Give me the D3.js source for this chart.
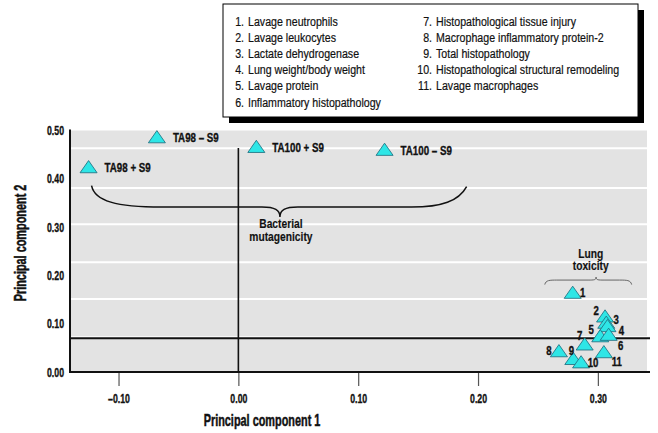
<!DOCTYPE html>
<html><head><meta charset="utf-8">
<script src="https://cdn.jsdelivr.net/npm/d3@7"></script>
<style>
body{margin:0;background:#fff;}
svg text{font-family:"Liberation Sans Narrow","Arial Narrow","Liberation Sans",Arial,sans-serif;font-weight:bold;fill:#111;stroke:#111;stroke-width:0.35px;}
svg text.reg{font-weight:normal;stroke-width:0.2px;}
</style></head>
<body><svg id="c" width="658" height="433"></svg>
<script>
// ---- data ----
const bacterialLabels = ["TA98 + S9","TA98 \u2013 S9","TA100 + S9","TA100 \u2013 S9"];
const bacterialPC1 = [-0.125,-0.068,0.015,0.122];
const bacterialPC2 = [0.423,0.485,0.465,0.459];

const lungLabels = ["1","2","3","4","5","6","7","8","9","10","11"];
const lungPC1 = [0.279,0.306,0.307,0.308,0.302,0.309,0.289,0.2675,0.2795,0.286,0.305];
const lungPC2 = [0.163,0.114,0.101,0.094,0.073,0.076,0.056,0.042,0.026,0.019,0.040];

const legendItems = ["Lavage neutrophils","Lavage leukocytes","Lactate dehydrogenase","Lung weight/body weight",
  "Lavage protein","Inflammatory histopathology","Histopathological tissue injury",
  "Macrophage inflammatory protein-2","Total histopathology","Histopathological structural remodeling",
  "Lavage macrophages"];

const xTicks = [-0.10,0.00,0.10,0.20,0.30];
const yTicks = [0.00,0.10,0.20,0.30,0.40,0.50];
const gridValues = [0.072,0.151,0.227,0.306,0.381,0.463];
const refLineX = 0.00;
const refLineY = 0.07;

// ---- layout ----
const svg = d3.select("#c");
const X0=70, X1=647, Y0=372, Y1=130.5;
const x = d3.scaleLinear().domain([-0.1405,0.341]).range([X0,X1]);
const y = d3.scaleLinear().domain([0,0.5]).range([Y0,Y1]);
const fmt = d => d < 0 ? "\u2013" + Math.abs(d).toFixed(2) : d.toFixed(2);

// condensed look: compress glyphs horizontally
function condense(sel, f){
  sel.each(function(){
    const w = this.getComputedTextLength();
    if (w>0) d3.select(this).attr("textLength", w*f).attr("lengthAdjust","spacingAndGlyphs");
  });
}

// plot background
svg.append("rect").attr("x",X0).attr("y",Y1).attr("width",X1-X0).attr("height",Y0-Y1).attr("fill","#e3e3e3");
svg.selectAll(".grid").data(gridValues).join("line")
  .attr("x1",X0).attr("x2",X1).attr("y1",d=>y(d)).attr("y2",d=>y(d))
  .attr("stroke","#fff").attr("stroke-width",2);

// axes
const xAxis = d3.axisBottom(x).tickValues(xTicks).tickSize(14).tickPadding(3).tickFormat(fmt);
const gx = svg.append("g").attr("transform",`translate(0,${Y0})`).call(xAxis);
gx.select(".domain").remove();
gx.selectAll(".tick line").attr("stroke","#555").attr("stroke-width",1.2);
gx.selectAll(".tick text").attr("dy","1.1em").style("font-size","12.5px").style("font-family",null);
condense(gx.selectAll(".tick text"),0.7);
svg.append("line").attr("x1",X0-1).attr("x2",X1+3).attr("y1",Y0).attr("y2",Y0).attr("stroke","#111").attr("stroke-width",2);

const yAxis = d3.axisLeft(y).tickValues(yTicks).tickSize(0).tickPadding(6).tickFormat(d=>d.toFixed(2));
const gy = svg.append("g").attr("transform",`translate(${X0},0)`).call(yAxis);
gy.select(".domain").remove();
gy.selectAll(".tick text").style("font-size","12.5px").style("font-family",null);
condense(gy.selectAll(".tick text"),0.7);
svg.append("line").attr("x1",X0).attr("x2",X0).attr("y1",Y1-1).attr("y2",Y0+1).attr("stroke","#111").attr("stroke-width",2);

// reference lines
svg.append("line").attr("x1",x(refLineX)).attr("x2",x(refLineX)).attr("y1",148).attr("y2",Y0)
  .attr("stroke","#111").attr("stroke-width",1.6);
svg.append("line").attr("x1",X0).attr("x2",650).attr("y1",y(refLineY)).attr("y2",y(refLineY))
  .attr("stroke","#111").attr("stroke-width",2);

// axis titles
const t1 = svg.append("text").attr("x",262).attr("y",420).attr("dy","0.35em").attr("text-anchor","middle")
  .style("font-size","17px").style("stroke-width","0.5px").text("Principal component 1");
const t2 = svg.append("text").attr("transform","translate(20,243) rotate(-90)").attr("dy","0.35em").attr("text-anchor","middle")
  .style("font-size","17px").style("stroke-width","0.5px").text("Principal component 2");
condense(t1,0.64); condense(t2,0.64);

// braces
const bracePts = [[-0.1225,0.386],[0.0347,0.3415],[0.0347,0.321],[0.1905,0.384]];
{
  const P = bracePts.map(p=>[x(p[0]),y(p[1])]);
  const L=P[0], H=P[1][1], T=P[2], R=P[3];
  const p = `M${L[0]},${L[1]} C${L[0]+3},${H-6} ${L[0]+25},${H} ${L[0]+70},${H} L${T[0]-18},${H} C${T[0]-5},${H} ${T[0]},${H+3} ${T[0]},${T[1]} C${T[0]},${H+3} ${T[0]+5},${H} ${T[0]+18},${H} L${R[0]-55},${H} C${R[0]-25},${H} ${R[0]-8},${H-6} ${R[0]},${R[1]}`;
  svg.append("path").attr("d",p).attr("fill","none").attr("stroke","#111").attr("stroke-width",1.5);
}
const lungBrace = [[0.2557,0.181],[0.2985,0.1965],[0.3282,0.181]];
{
  const P = lungBrace.map(p=>[x(p[0]),y(p[1])]);
  const L=P[0], T=P[1], R=P[2], H=L[1]-4.5;
  const p = `M${L[0]},${L[1]} C${L[0]+1},${H} ${L[0]+5},${H} ${L[0]+12},${H} L${T[0]-8},${H} C${T[0]-2},${H} ${T[0]},${H} ${T[0]},${T[1]} C${T[0]},${H} ${T[0]+2},${H} ${T[0]+8},${H} L${R[0]-12},${H} C${R[0]-5},${H} ${R[0]-1},${H} ${R[0]},${R[1]}`;
  svg.append("path").attr("d",p).attr("fill","none").attr("stroke","#666").attr("stroke-width",1);
}
const ann = svg.append("g");
[["Bacterial",0.0355,0.298],["mutagenicity",0.0355,0.271],["Lung",0.294,0.237],["toxicity",0.294,0.211]].forEach(a=>{
  ann.append("text").attr("x",x(a[1])).attr("y",y(a[2])).attr("text-anchor","middle").style("font-size","12.5px").style("stroke-width","0.15px").text(a[0]);
});
condense(ann.selectAll("text"),0.82);

// triangles
const tri = d3.symbol().type(d3.symbolTriangle).size(95);
const bac = bacterialLabels.map((l,i)=>({l,x:bacterialPC1[i],y:bacterialPC2[i]}));
const lung = lungLabels.map((l,i)=>({l,x:lungPC1[i],y:lungPC2[i]}));
const drawTri = data => svg.append("g").selectAll("path").data(data).join("path")
  .attr("d",tri).attr("transform",d=>`translate(${x(d.x)},${y(d.y)+1}) scale(1.15,0.95)`)
  .attr("fill","#2ee6e6").attr("stroke","#1f6f80").attr("stroke-width",0.8);
drawTri(bac); drawTri(lung);

const bl = svg.append("g").selectAll("text").data(bac).join("text")
  .attr("x",d=>x(d.x)+16).attr("y",d=>y(d.y)).attr("dy","0.35em").style("font-size","12.5px").text(d=>d.l);
condense(bl,0.78);

// lung label offsets (dx, dy in px)
const lungLabelDx = [10,-9,10,14,-9,12,-5,-10,-2,12,13];
const lungLabelDy = [0,-6,-3,4,-7,11,-9,-1,-9,0,9];
const ll = svg.append("g").selectAll("text").data(lung).join("text")
  .attr("x",(d,i)=>x(d.x)+lungLabelDx[i]).attr("y",(d,i)=>y(d.y)+lungLabelDy[i]).attr("dy","0.35em")
  .attr("text-anchor","middle").style("font-size","12px").text(d=>d.l);
condense(ll,0.8);

// legend
svg.append("rect").attr("x",229).attr("y",10).attr("width",415).attr("height",113).attr("fill","#000");
svg.append("rect").attr("x",223).attr("y",4).attr("width",415).attr("height",113).attr("fill","#fff").attr("stroke","#000").attr("stroke-width",1);
const lg = svg.append("g").selectAll("g").data(legendItems).join("g")
  .attr("transform",(d,i)=>`translate(${i<6?244:432},${21.7+(i%6)*16.1})`);
const ln = lg.append("text").attr("class","reg").attr("text-anchor","end").attr("dy","0.35em").style("font-size","12.5px").text((d,i)=>(i+1)+".");
const lt = lg.append("text").attr("class","reg").attr("x",4).attr("dy","0.35em").style("font-size","12.5px").text(d=>d);
condense(ln,0.85); condense(lt,0.85);
</script></body></html>
